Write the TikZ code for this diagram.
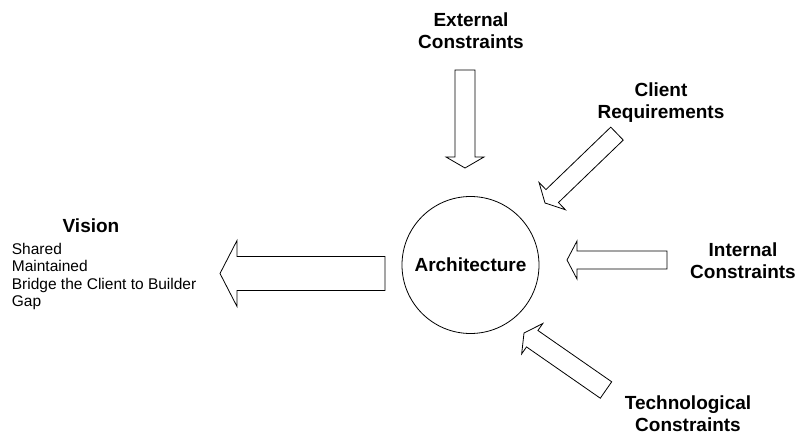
\documentclass[tikz,border=0pt]{standalone}
\usepackage{fontspec}
\setmainfont{Liberation Sans}
\usepackage{tikz}
\usetikzlibrary{calc}
\tikzstyle{blockline} = [draw=black, line width=0.8pt, fill=white, line join=miter]

% block arrow: tail, tip, half shaft, half head, head length
\newcommand{\blockarrow}[5]{%
  \coordinate (neck) at ($(#2)!#5!(#1)$);
  \draw[blockline] ($(#1)!#3!-90:(#2)$) -- ($(neck)!#3!90:(#1)$)
    -- ($(neck)!#4!90:(#1)$) -- (#2) -- ($(neck)!#4!-90:(#1)$)
    -- ($(neck)!#3!-90:(#1)$) -- ($(#1)!#3!90:(#2)$) -- cycle;
}

\begin{document}
\begin{tikzpicture}[x=1pt, y=1pt,
    heading/.style={font=\fontsize{19}{22}\selectfont\bfseries, align=center, inner sep=0pt},
    itemtext/.style={font=\fontsize{15.5}{17.5}\selectfont, align=left, inner sep=0pt},
  ]
  \useasboundingbox (0,0) rectangle (801,-436);

  \node[circle, draw, line width=0.8pt, minimum size=137pt, inner sep=0pt,
        font=\fontsize{19}{22}\selectfont\bfseries] (arch) at (470.5,-265) {Architecture};

  \node[heading] (ext) at (471,-31) {External\\Constraints};
  \node[heading] (client) at (661,-103) {Client\\Requirements};
  \node[heading] (internal) at (743,-260.5) {Internal\\Constraints};
  \node[heading] (tech) at (688,-414) {Technological\\Constraints};

  \node[heading, anchor=base] (vision) at (91,-232.3) {Vision};
  \node[itemtext, anchor=north west] (goals) at (11.7,-243) {Shared\\Maintained\\Bridge the Client to Builder\\Gap};

  \coordinate (ext tail) at (465,-70);
  \coordinate (ext tip) at (465,-168);
  \coordinate (client tail) at (617,-133.6);
  \coordinate (client tip) at (545,-203);
  \coordinate (internal tail) at (667,-260);
  \coordinate (internal tip) at (567,-260);
  \coordinate (tech tail) at (606,-390);
  \coordinate (tech tip) at (524,-333);
  \coordinate (vision tail) at (385,-273.5);
  \coordinate (vision tip) at (220,-273.5);

  \blockarrow{ext tail}{ext tip}{10pt}{19pt}{11pt}
  \blockarrow{client tail}{client tip}{9pt}{19pt}{10pt}
  \blockarrow{internal tail}{internal tip}{9pt}{19pt}{10pt}
  \blockarrow{tech tail}{tech tip}{10pt}{18.5pt}{10pt}
  \blockarrow{vision tail}{vision tip}{17pt}{33pt}{17pt}
\end{tikzpicture}
\end{document}
